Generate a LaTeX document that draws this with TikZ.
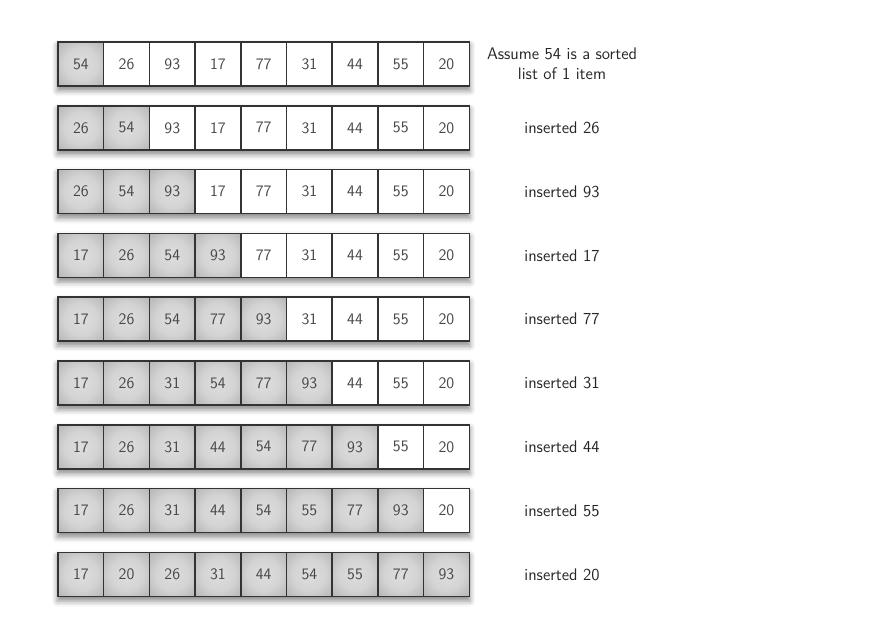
\documentclass[tikz,border=0pt]{standalone}
\usetikzlibrary{shadows.blur}
\pgfdeclarelayer{bg}
\pgfsetlayers{bg,main}
\pgfdeclareradialshading{cellshade}{\pgfpoint{0bp}{0bp}}{%
  color(0bp)=(black!13); color(18bp)=(black!17); color(40bp)=(black!32);
  color(50bp)=(black!46); color(71bp)=(black!60)}
\begin{document}
\begin{tikzpicture}[x=0.75pt,y=-0.75pt,
  font=\sffamily\fontsize{12}{14.5}\selectfont,
  cell/.style={draw=black!80, line width=1.2pt, minimum width=34.3pt,
    minimum height=33pt, inner sep=0pt, text=black!72},
  done/.style={cell, shading=cellshade},
  todo/.style={cell, fill=white},
  lbl/.style={text=black!85, align=center, font=\sffamily\fontsize{12.6}{15}\selectfont},
  rowshadow/.style={blur shadow={shadow xshift=0pt, shadow yshift=-3pt,
    shadow blur radius=4pt, shadow opacity=45}}]
\useasboundingbox (0,0) rectangle (892,632);
\foreach \k/\vals [count=\i] in {
  1/{54,26,93,17,77,31,44,55,20},
  2/{26,54,93,17,77,31,44,55,20},
  3/{26,54,93,17,77,31,44,55,20},
  4/{17,26,54,93,77,31,44,55,20},
  5/{17,26,54,77,93,31,44,55,20},
  6/{17,26,31,54,77,93,44,55,20},
  7/{17,26,31,44,54,77,93,55,20},
  8/{17,26,31,44,54,55,77,93,20},
  9/{17,20,26,31,44,54,55,77,93}}{
  \foreach \v [count=\j] in \vals {
    \ifnum\j>\k
      \node[todo] (r\i-\j) at ({58+45.7*(\j-0.5)},{64+63.8*(\i-1)}) {\v};
    \else
      \node[done] (r\i-\j) at ({58+45.7*(\j-0.5)},{64+63.8*(\i-1)}) {\v};
    \fi
  }
  \begin{pgfonlayer}{bg}
    \path[rowshadow, fill=white] (r\i-1.north west) rectangle (r\i-9.south east);
  \end{pgfonlayer}
}
\node[lbl] (l1) at (562,64) {Assume 54 is a sorted\\list of 1 item};
\foreach \t [count=\i from 2] in {26,93,17,77,31,44,55,20}{
  \node[lbl] (l\i) at (562,{64+63.8*(\i-1)}) {inserted \t};
}
\end{tikzpicture}
\end{document}
